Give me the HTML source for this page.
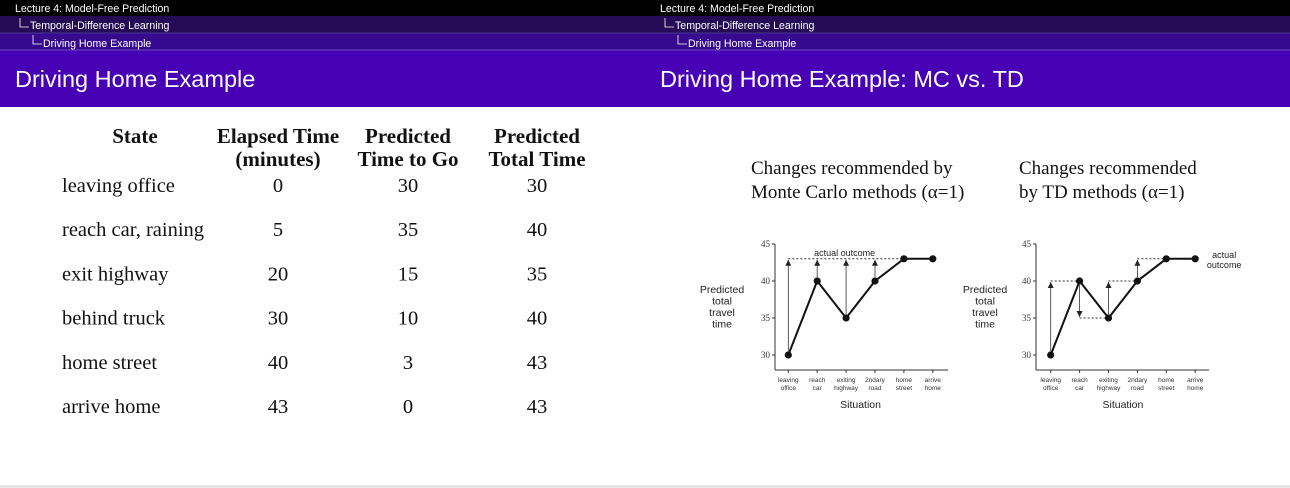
<!DOCTYPE html>
<html><head><meta charset="utf-8"><style>
html,body{margin:0;padding:0;background:#fff;width:1290px;height:488px;overflow:hidden}
svg text{font-family:"Liberation Sans",sans-serif}
svg text.serif{font-family:"Liberation Serif",serif}
</style></head><body>
<svg id="s" width="1290" height="488" xmlns="http://www.w3.org/2000/svg">
<defs><marker id="ah" markerWidth="6" markerHeight="6" refX="6" refY="3" orient="auto" markerUnits="userSpaceOnUse"><path d="M0,0 L6,3 L0,6 Z" fill="#222"/></marker></defs>
<g>
<rect x="0" y="0" width="645" height="16" fill="#000"/>
<rect x="0" y="16" width="645" height="17" fill="#250b55"/>
<rect x="0" y="33" width="645" height="17" fill="#36098f"/>
<rect x="0" y="50" width="645" height="57" fill="#4700b4"/>
<line x1="0" y1="33" x2="645" y2="33" stroke="#4a3590"/>
<line x1="0" y1="50" x2="645" y2="50" stroke="#6a50c0"/>
<text x="15" y="12" font-size="10.6" fill="#fff">Lecture 4: Model-Free Prediction</text>
<path d="M20,18 V27 H29" stroke="#fff" fill="none" stroke-width="0.8"/>
<text x="30" y="29" font-size="10.6" fill="#fff">Temporal-Difference Learning</text>
<path d="M33,35 V44 H42" stroke="#fff" fill="none" stroke-width="0.8"/>
<text x="43" y="47" font-size="10.6" fill="#fff">Driving Home Example</text>
<text x="15" y="87" font-size="23.5" fill="#fff">Driving Home Example</text>
</g>
<g>
<rect x="645" y="0" width="645" height="16" fill="#000"/>
<rect x="645" y="16" width="645" height="17" fill="#250b55"/>
<rect x="645" y="33" width="645" height="17" fill="#36098f"/>
<rect x="645" y="50" width="645" height="57" fill="#4700b4"/>
<line x1="645" y1="33" x2="1290" y2="33" stroke="#4a3590"/>
<line x1="645" y1="50" x2="1290" y2="50" stroke="#6a50c0"/>
<text x="660" y="12" font-size="10.6" fill="#fff">Lecture 4: Model-Free Prediction</text>
<path d="M665,18 V27 H674" stroke="#fff" fill="none" stroke-width="0.8"/>
<text x="675" y="29" font-size="10.6" fill="#fff">Temporal-Difference Learning</text>
<path d="M678,35 V44 H687" stroke="#fff" fill="none" stroke-width="0.8"/>
<text x="688" y="47" font-size="10.6" fill="#fff">Driving Home Example</text>
<text x="660" y="87" font-size="23.5" fill="#fff">Driving Home Example: MC vs. TD</text>
</g>
<rect x="0" y="485" width="1290" height="3" fill="#e6e6e6"/>
<g id="tbl"></g>
<text class="serif" x="751" y="174" font-size="19" fill="#111">Changes recommended by</text>
<text class="serif" x="751" y="198" font-size="19" fill="#111">Monte Carlo methods (α=1)</text>
<text class="serif" x="1019" y="174" font-size="19" fill="#111">Changes recommended</text>
<text class="serif" x="1019" y="198" font-size="19" fill="#111">by TD methods (α=1)</text>
<g id="c1"></g>
<g id="c2"></g>
</svg>
<script>
const states=["leaving office","reach car, raining","exit highway","behind truck","home street","arrive home"];
const elapsed=[0,5,20,30,40,43];
const toGo=[30,35,15,10,3,0];
const total=[30,40,35,40,43,43];
const situations=[["leaving","office"],["reach","car"],["exiting","highway"],["2ndary","road"],["home","street"],["arrive","home"]];
const predicted=[30,40,35,40,43,43];
const actualOutcome=43;
const yTicks=[30,35,40,45];
const NS="http://www.w3.org/2000/svg";
function mk(p,tag,at,txt){const e=document.createElementNS(NS,tag);for(const k in at)e.setAttribute(k,at[k]);if(txt!==undefined)e.textContent=txt;p.appendChild(e);return e;}
const tbl=document.getElementById('tbl');
const hdr=[[135,["State"]],[278,["Elapsed Time","(minutes)"]],[408,["Predicted","Time to Go"]],[537,["Predicted","Total Time"]]];
hdr.forEach(h=>h[1].forEach((t,i)=>{const e=mk(tbl,'text',{class:'serif',x:h[0],y:143+i*23,'font-size':21,'font-weight':'bold','text-anchor':'middle',fill:'#111'},t);

}));
states.forEach((s,i)=>{const y=192+i*44.2;
const a=mk(tbl,'text',{class:'serif',x:62,y:y,'font-size':20.5,fill:'#111'},s);


[[278,elapsed[i]],[408,toGo[i]],[537,total[i]]].forEach(c=>{const e=mk(tbl,'text',{class:'serif',x:c[0],y:y,'font-size':20.5,'text-anchor':'middle',fill:'#111'},c[1]);

});});
function chart(g,x0,axX,titleX,mode){
  const yS=v=>355-(v-30)*7.4; const xS=i=>x0+i*28.9;
  mk(g,'line',{x1:axX,y1:yS(45),x2:axX,y2:370,stroke:'#333','stroke-width':1});
  mk(g,'line',{x1:axX,y1:370,x2:axX+173,y2:370,stroke:'#333','stroke-width':1});
  yTicks.forEach(t=>{mk(g,'line',{x1:axX-3,y1:yS(t),x2:axX,y2:yS(t),stroke:'#333'});
    const e=mk(g,'text',{class:'serif',x:axX-5,y:yS(t)+3,'font-size':9,'text-anchor':'end',fill:'#333'},t);
    
    });
  situations.forEach((s,i)=>{mk(g,'line',{x1:xS(i),y1:370,x2:xS(i),y2:373,stroke:'#333'});
    s.forEach((w,j)=>{const e=mk(g,'text',{x:xS(i),y:382+j*8,'font-size':6.5,'text-anchor':'middle',fill:'#333'},w);
    
    });});
  const xt=mk(g,'text',{x:(xS(0)+xS(5))/2,y:408,'font-size':10.5,'text-anchor':'middle',fill:'#222'},'Situation');
  
  
  ["Predicted","total","travel","time"].forEach((w,j)=>{const e=mk(g,'text',{x:titleX,y:293+j*11.5,'font-size':10.5,'text-anchor':'middle',fill:'#222'},w);
    
    });
  if(mode==='mc'){
    mk(g,'line',{x1:xS(0),y1:yS(actualOutcome),x2:xS(5),y2:yS(actualOutcome),stroke:'#333','stroke-dasharray':'2,2'});
    const t=mk(g,'text',{x:xS(1.95),y:yS(actualOutcome)-3,'font-size':9,'text-anchor':'middle',fill:'#222'},'actual outcome');
    
    
    predicted.forEach((v,i)=>{if(actualOutcome-v>0.5){const a=mk(g,'line',{x1:xS(i),y1:yS(v)-4,x2:xS(i),y2:yS(actualOutcome)+1,stroke:'#333','stroke-width':0.8,'marker-end':'url(#ah)'});
      
      }});
  } else {
    for(let i=0;i<predicted.length-1;i++){const v=predicted[i],n=predicted[i+1];
      mk(g,'line',{x1:xS(i),y1:yS(n),x2:xS(i+1),y2:yS(n),stroke:'#333','stroke-dasharray':'2,2'});
      if(Math.abs(n-v)>0.5){const dir=n>v?-1:1;
        const a=mk(g,'line',{x1:xS(i),y1:yS(v)+dir*4,x2:xS(i),y2:yS(n)-dir*1,stroke:'#333','stroke-width':0.8,'marker-end':'url(#ah)'});
        
        }}
    const l1=mk(g,'text',{x:xS(5)+29,y:yS(actualOutcome)-1,'font-size':9,'text-anchor':'middle',fill:'#222'},'actual');
    
    
    const l2=mk(g,'text',{x:xS(5)+29,y:yS(actualOutcome)+9,'font-size':9,'text-anchor':'middle',fill:'#222'},'outcome');
    
    
  }
  const pl=mk(g,'polyline',{points:predicted.map((v,i)=>xS(i)+','+yS(v)).join(' '),fill:'none',stroke:'#111','stroke-width':2});
  
  
  predicted.forEach((v,i)=>{const c=mk(g,'circle',{cx:xS(i),cy:yS(v),r:3.6,fill:'#111'});
    
    });
}
chart(document.getElementById('c1'),788.3,775,722,'mc');
chart(document.getElementById('c2'),1050.7,1036,985,'td');
</script>
</body></html>
